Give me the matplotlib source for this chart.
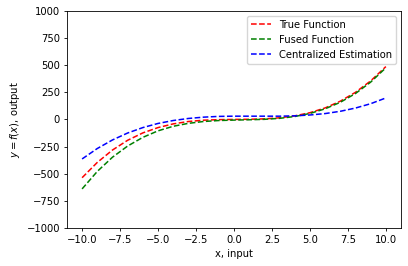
import numpy as np
import matplotlib
matplotlib.use("Agg")
import matplotlib.pyplot as plt

# values at integer x
x = np.arange(-10, 11)
true_f = [-537, -396, -282, -192, -124, -75, -41, -19, -7, -2, 0,
          1.5, 5, 15, 33, 62, 106, 168, 250, 355, 487]
fused_f = [-640, -479, -348, -245, -165, -105, -63, -36, -19, -10, -6,
           -3, 1, 10, 27, 55, 98, 158, 239, 344, 476]
central_f = [-364, -268, -189, -125, -75, -37, -10, 9, 21, 28, 30,
             30, 30, 30, 33, 41, 54, 75, 105, 145, 198]

plt.rcParams['font.size'] = 7.2
fig = plt.figure(figsize=(4.08, 2.66), dpi=100)
ax = fig.add_axes([0.164, 0.143, 0.819, 0.816])
lw = 1.1
ax.plot(x, true_f, 'r--', lw=lw, label='True Function')
ax.plot(x, fused_f, 'g--', lw=lw, label='Fused Function')
ax.plot(x, central_f, 'b--', lw=lw, label='Centralized Estimation')
ax.set_ylim(-1000, 1000)
ax.set_xlabel('x, input', labelpad=2.9)
ax.set_ylabel('$y = f(x)$, output', labelpad=2.9)
ax.legend(loc='upper right')
for s in ax.spines.values():
    s.set_linewidth(0.6)
ax.tick_params(width=0.6, length=2.5, pad=2.5)
fig.savefig('out.png', dpi=100)
